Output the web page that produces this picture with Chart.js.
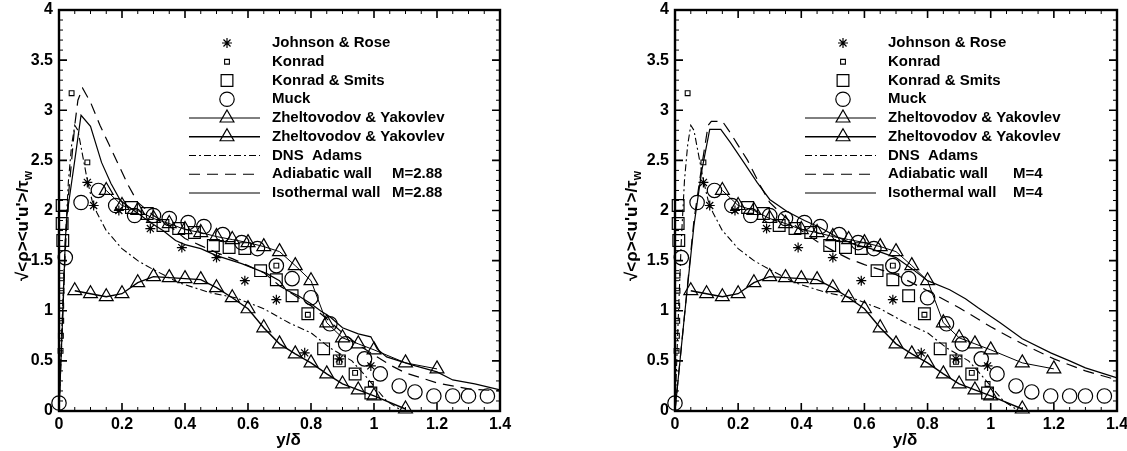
<!DOCTYPE html>
<html><head><meta charset="utf-8">
<script src="https://cdn.jsdelivr.net/npm/chart.js@4.4.0/dist/chart.umd.min.js"></script>
<style>
html,body{margin:0;padding:0;background:#fff;}
#wrap{position:relative;width:1127px;height:451px;background:#fff;}
canvas{position:absolute;top:0;}
</style></head>
<body><div id="wrap"><canvas id="c1" width="563" height="451" style="left:0px"></canvas><canvas id="c2" width="564" height="451" style="left:563px"></canvas></div>
<script>
// ---------- tick labels / titles ----------
const xTickValues = [0,0.2,0.4,0.6,0.8,1,1.2,1.4];
const xTickLabels = ['0','0.2','0.4','0.6','0.8','1','1.2','1.4'];
const yTickValues = [0,0.5,1,1.5,2,2.5,3,3.5,4];
const yTickLabels = ['0','0.5','1','1.5','2','2.5','3','3.5','4'];
const xTitle = 'y/δ';
const yTitleMain = "√<ρ><u'u'>/τ";
const yTitleSub = 'w';
const legendLabels = ['Johnson & Rose','Konrad','Konrad & Smits','Muck','Zheltovodov & Yakovlev','Zheltovodov & Yakovlev','DNS  Adams','Adiabatic wall','Isothermal wall'];
const machLeft = 'M=2.88';
const machRight = 'M=4';

// ---------- experimental data (shared by both panels) ----------
const johnsonX = [0.09,0.11,0.19,0.29,0.39,0.50,0.59,0.69,0.78,0.89,0.99];
const johnsonY = [2.28,2.05,2.00,1.82,1.63,1.53,1.30,1.11,0.58,0.52,0.45];

const konradX = [0.005,0.006,0.007,0.007,0.008,0.008,0.04,0.09,0.69,0.79,0.89,0.94,0.99];
const konradY = [0.60,0.75,0.90,1.05,1.20,1.35,3.17,2.48,1.45,0.96,0.49,0.38,0.27];

const ksX = [0.01,0.01,0.012,0.23,0.28,0.33,0.38,0.43,0.49,0.54,0.59,0.64,0.69,0.74,0.79,0.84,0.89,0.94,0.99];
const ksY = [2.05,1.87,1.70,2.03,1.97,1.85,1.82,1.78,1.65,1.63,1.62,1.40,1.31,1.15,0.97,0.62,0.50,0.37,0.18];

const muckX = [0,0.02,0.07,0.125,0.18,0.24,0.30,0.35,0.41,0.46,0.52,0.58,0.63,0.69,0.74,0.80,0.86,0.91,0.97,1.02,1.08,1.13,1.19,1.25,1.30,1.36];
const muckY = [0.08,1.53,2.08,2.20,2.05,1.95,1.95,1.92,1.88,1.84,1.76,1.68,1.62,1.45,1.32,1.13,0.87,0.67,0.52,0.37,0.25,0.19,0.15,0.15,0.15,0.15];

const zhUpX = [0.15,0.2,0.25,0.3,0.35,0.4,0.45,0.5,0.55,0.6,0.65,0.7,0.75,0.8,0.85,0.9,0.95,1.0,1.1,1.2];
const zhUpY = [2.20,2.05,2.00,1.92,1.87,1.81,1.78,1.74,1.71,1.68,1.64,1.59,1.45,1.30,0.88,0.73,0.67,0.61,0.48,0.42];

const zhLoX = [0.05,0.1,0.15,0.2,0.25,0.3,0.35,0.4,0.45,0.5,0.55,0.6,0.65,0.7,0.75,0.8,0.85,0.9,0.95,1.0,1.1];
const zhLoY = [1.20,1.17,1.14,1.17,1.28,1.34,1.33,1.32,1.31,1.23,1.13,1.02,0.83,0.67,0.57,0.48,0.37,0.27,0.21,0.15,0.02];

const dnsX = [0,0.01,0.02,0.03,0.04,0.05,0.06,0.075,0.09,0.105,0.12,0.15,0.2,0.25,0.3,0.38,0.48,0.56,0.65,0.73,0.8,0.86,0.93,0.97,1.04,1.09];
const dnsY = [0,0.90,1.70,2.30,2.65,2.85,2.80,2.55,2.30,2.10,1.98,1.80,1.62,1.50,1.41,1.28,1.18,1.13,1.02,0.88,0.78,0.63,0.50,0.36,0.10,0];

// ---------- LES lines, M=2.88 (left) ----------
const adLeftX = [0,0.01,0.02,0.03,0.04,0.05,0.06,0.075,0.1,0.13,0.16,0.19,0.22,0.25,0.3,0.35,0.4,0.45,0.5,0.55,0.6,0.65,0.7,0.75,0.8,0.85,0.9,0.95,1.0,1.05,1.1,1.2,1.3,1.4];
const adLeftY = [0,0.80,1.60,2.15,2.50,2.85,3.10,3.22,3.08,2.85,2.65,2.45,2.25,2.08,1.95,1.85,1.72,1.65,1.58,1.52,1.45,1.38,1.25,1.15,1.05,0.92,0.78,0.66,0.56,0.46,0.38,0.28,0.22,0.20];
const isoLeftX = [0,0.01,0.02,0.025,0.05,0.07,0.1,0.135,0.165,0.195,0.22,0.26,0.29,0.33,0.37,0.4,0.45,0.5,0.54,0.58,0.62,0.66,0.7,0.72,0.76,0.8,0.83,0.86,0.9,0.95,0.99,1.01,1.04,1.12,1.2,1.25,1.32,1.4];
const isoLeftY = [0,0.80,1.70,1.95,2.50,2.95,2.84,2.48,2.27,2.10,2.04,1.95,1.88,1.80,1.70,1.66,1.62,1.55,1.51,1.47,1.42,1.37,1.30,1.21,1.15,1.07,1.00,0.94,0.83,0.77,0.74,0.62,0.54,0.46,0.39,0.31,0.27,0.21];

// ---------- LES lines, M=4 (right) ----------
const adRightX = [0,0.03,0.06,0.085,0.105,0.115,0.15,0.17,0.2,0.23,0.27,0.3,0.35,0.4,0.45,0.5,0.55,0.6,0.7,0.8,0.9,1.0,1.1,1.2,1.3,1.4];
const adRightY = [0,0.95,1.90,2.45,2.85,2.89,2.89,2.80,2.65,2.50,2.25,2.08,1.93,1.80,1.69,1.60,1.52,1.46,1.36,1.20,1.03,0.84,0.67,0.52,0.40,0.31];
const isoRightX = [0,0.03,0.06,0.085,0.11,0.145,0.175,0.22,0.26,0.3,0.355,0.41,0.46,0.51,0.57,0.62,0.7,0.75,0.8,0.87,0.92,0.96,1.03,1.1,1.19,1.25,1.3,1.35,1.4];
const isoRightY = [0,0.95,1.85,2.40,2.81,2.81,2.68,2.47,2.28,2.11,1.99,1.90,1.83,1.74,1.66,1.62,1.53,1.42,1.30,1.21,1.12,1.03,0.88,0.72,0.58,0.50,0.43,0.38,0.33];

// ---------- helpers ----------
const FONT = '"Liberation Sans", Arial, Helvetica, sans-serif';
Chart.defaults.font.family = FONT;
Chart.defaults.color = '#000';
const toPts = (xs, ys) => xs.map((x, i) => ({x: x, y: ys[i]}));

function buildDatasets(adX, adY, isX, isY) {
  const mk = {borderColor:'#000', backgroundColor:'rgba(0,0,0,0)', pointBackgroundColor:'rgba(0,0,0,0)', pointBorderColor:'#000', clip:false};
  return [
    Object.assign({label:legendLabels[0], data:toPts(johnsonX,johnsonY), pointStyle:'star', pointRadius:5, pointBorderWidth:1.2, showLine:false}, mk),
    Object.assign({label:legendLabels[1], data:toPts(konradX,konradY), pointStyle:'rect', pointRadius:3.4, pointBorderWidth:1.1, showLine:false}, mk),
    Object.assign({label:legendLabels[2], data:toPts(ksX,ksY), pointStyle:'rect', pointRadius:8.3, pointBorderWidth:1.2, showLine:false}, mk),
    Object.assign({label:legendLabels[3], data:toPts(muckX,muckY), pointStyle:'circle', pointRadius:7.2, pointBorderWidth:1.2, showLine:false}, mk),
    Object.assign({label:legendLabels[4], data:toPts(zhUpX,zhUpY), pointStyle:'triangle', pointRadius:8, pointBorderWidth:1.2, showLine:true, borderWidth:1, tension:0}, mk),
    Object.assign({label:legendLabels[5], data:toPts(zhLoX,zhLoY), pointStyle:'triangle', pointRadius:8, pointBorderWidth:1.2, showLine:true, borderWidth:1.4, tension:0}, mk),
    Object.assign({label:legendLabels[6], data:toPts(dnsX,dnsY), pointRadius:0, showLine:true, borderWidth:1.1, borderDash:[7,3,2,3], tension:0}, mk),
    Object.assign({label:legendLabels[7], data:toPts(adX,adY), pointRadius:0, showLine:true, borderWidth:1.2, borderDash:[11,7], tension:0}, mk),
    Object.assign({label:legendLabels[8], data:toPts(isX,isY), pointRadius:0, showLine:true, borderWidth:1.2, tension:0}, mk)
  ];
}

function drawSym(ctx, style, x, y, r, lw) {
  ctx.save();
  ctx.lineWidth = lw || 1.2;
  ctx.strokeStyle = '#000';
  ctx.setLineDash([]);
  ctx.beginPath();
  if (style === 'star') {
    for (let k = 0; k < 4; k++) {
      const a = k * Math.PI / 4;
      ctx.moveTo(x - Math.cos(a) * r, y - Math.sin(a) * r);
      ctx.lineTo(x + Math.cos(a) * r, y + Math.sin(a) * r);
    }
  } else if (style === 'rect') {
    const s = Math.SQRT1_2 * r;
    ctx.rect(x - s, y - s, 2 * s, 2 * s);
  } else if (style === 'circle') {
    ctx.arc(x, y, r, 0, Math.PI * 2);
  } else if (style === 'triangle') {
    let a = 0;
    ctx.moveTo(x + Math.sin(a) * r, y - Math.cos(a) * r);
    a += 2 * Math.PI / 3; ctx.lineTo(x + Math.sin(a) * r, y - Math.cos(a) * r);
    a += 2 * Math.PI / 3; ctx.lineTo(x + Math.sin(a) * r, y - Math.cos(a) * r);
    ctx.closePath();
  }
  ctx.stroke();
  ctx.restore();
}

function makeChart(canvas, cfg) {
  const decor = {
    id: 'decor',
    afterDraw(chart) {
      const ctx = chart.ctx, a = chart.chartArea;
      const xs = chart.scales.x, ys = chart.scales.y;
      ctx.save();
      ctx.strokeStyle = '#000';
      // inward ticks on all sides
      for (let i = 0; i <= 28; i++) {
        const px = xs.getPixelForValue(i * 0.05);
        const major = i % 4 === 0;
        const len = major ? 8 : 4;
        ctx.lineWidth = major ? 1.6 : 1;
        ctx.beginPath();
        ctx.moveTo(px, a.bottom); ctx.lineTo(px, a.bottom - len);
        ctx.moveTo(px, a.top); ctx.lineTo(px, a.top + len);
        ctx.stroke();
      }
      for (let i = 0; i <= 40; i++) {
        const py = ys.getPixelForValue(i * 0.1);
        const major = i % 5 === 0;
        const len = major ? 8 : 4;
        ctx.lineWidth = major ? 1.6 : 1;
        ctx.beginPath();
        ctx.moveTo(a.left, py); ctx.lineTo(a.left + len, py);
        ctx.moveTo(a.right, py); ctx.lineTo(a.right - len, py);
        ctx.stroke();
      }
      // frame
      ctx.lineWidth = 2.4;
      ctx.strokeRect(a.left, a.top, a.right - a.left, a.bottom - a.top);
      // x title
      ctx.fillStyle = '#000';
      ctx.font = 'bold 17px ' + FONT;
      ctx.textAlign = 'center';
      ctx.textBaseline = 'middle';
      ctx.fillText(xTitle, (a.left + a.right) / 2 + 9, 440);
      // y title (rotated, with subscript)
      ctx.save();
      ctx.translate(cfg.yTitleX, 226);
      ctx.rotate(-Math.PI / 2);
      ctx.font = 'bold 17px ' + FONT;
      const wMain = ctx.measureText(yTitleMain).width;
      ctx.font = 'bold 12px ' + FONT;
      const wSub = ctx.measureText(yTitleSub).width;
      const start = -(wMain + wSub) / 2;
      ctx.textAlign = 'left';
      ctx.textBaseline = 'middle';
      ctx.font = 'bold 17px ' + FONT;
      ctx.fillText(yTitleMain, start, 0);
      ctx.font = 'bold 12px ' + FONT;
      ctx.fillText(yTitleSub, start + wMain, 6);
      ctx.restore();
      // legend
      const symX = a.left + 168, l0 = a.left + 130, l1 = a.left + 201, tx = a.left + 213;
      chart.data.datasets.forEach((ds, i) => {
        const y = a.top + 33 + i * 18.75;
        if (ds.showLine) {
          ctx.save();
          ctx.lineWidth = ds.borderWidth;
          ctx.setLineDash(ds.borderDash || []);
          ctx.beginPath(); ctx.moveTo(l0, y); ctx.lineTo(l1, y); ctx.stroke();
          ctx.restore();
        }
        if (ds.pointRadius > 0) drawSym(ctx, ds.pointStyle, symX, y, ds.pointRadius, ds.pointBorderWidth);
        ctx.font = 'bold 15px ' + FONT;
        ctx.textAlign = 'left';
        ctx.textBaseline = 'middle';
        ctx.fillText(ds.label, tx, y);
        if (i >= 7) ctx.fillText(cfg.mach, tx + cfg.machOffset, y);
      });
      ctx.restore();
    }
  };
  return new Chart(canvas, {
    type: 'scatter',
    data: {datasets: buildDatasets(cfg.adX, cfg.adY, cfg.isX, cfg.isY)},
    options: {
      responsive: false,
      animation: false,
      devicePixelRatio: 1,
      events: [],
      layout: {padding: {left: 0, right: cfg.padRight, top: 10, bottom: 0}},
      plugins: {legend: {display: false}, tooltip: {enabled: false}},
      scales: {
        x: {
          type: 'linear', min: 0, max: 1.4,
          grid: {display: false, drawTicks: false},
          border: {display: false},
          afterBuildTicks: s => { s.ticks = xTickValues.map(v => ({value: v})); },
          afterFit: s => { s.height = 40; s.paddingLeft = 0; s.paddingRight = 0; },
          ticks: {autoSkip: false, maxRotation: 0, padding: 4, color: '#000',
                  font: {size: 16, weight: 'bold'},
                  callback: (v, i) => xTickLabels[i]}
        },
        y: {
          type: 'linear', min: 0, max: 4,
          grid: {display: false, drawTicks: false},
          border: {display: false},
          afterBuildTicks: s => { s.ticks = yTickValues.map(v => ({value: v})); },
          afterFit: s => { s.width = cfg.yWidth; s.paddingTop = 0; s.paddingBottom = 0; },
          ticks: {autoSkip: false, padding: 6, color: '#000',
                  font: {size: 16, weight: 'bold'},
                  callback: (v, i) => yTickLabels[i]}
        }
      }
    },
    plugins: [decor]
  });
}

makeChart(document.getElementById('c1'), {
  adX: adLeftX, adY: adLeftY, isX: isoLeftX, isY: isoLeftY,
  mach: machLeft, machOffset: 120, padRight: 63, yWidth: 59, yTitleX: 23
});
makeChart(document.getElementById('c2'), {
  adX: adRightX, adY: adRightY, isX: isoRightX, isY: isoRightY,
  mach: machRight, machOffset: 125, padRight: 10, yWidth: 112, yTitleX: 69
});
</script>
</body></html>
